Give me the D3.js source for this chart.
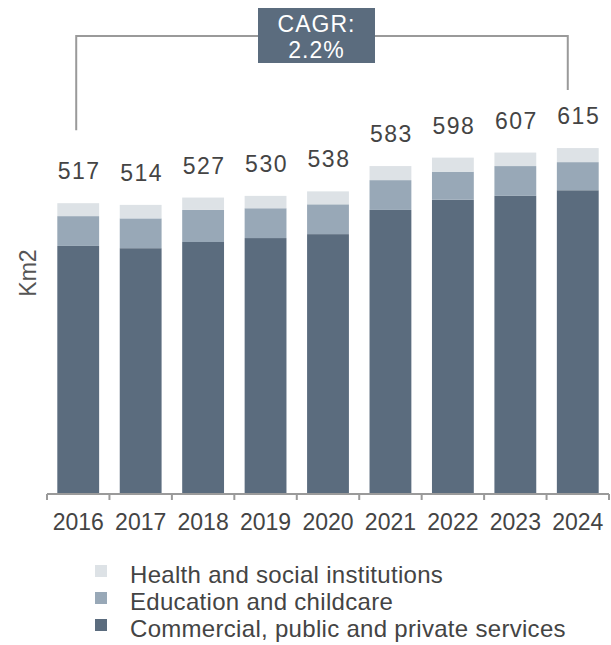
<!DOCTYPE html>
<html>
<head>
<meta charset="utf-8">
<script src="https://cdn.jsdelivr.net/npm/d3@7/dist/d3.min.js"></script>
<style>
  html, body { margin: 0; padding: 0; background: #fff; }
  svg { display: block; }
  .num { font-family: "Liberation Sans Narrow", "Liberation Sans", Arial, sans-serif; }
  .txt { font-family: "Liberation Sans", Arial, sans-serif; }
</style>
</head>
<body>
<svg id="chart" width="611" height="645"></svg>
<script>
const years = ["2016","2017","2018","2019","2020","2021","2022","2023","2024"];
const commercial = [441, 437, 448, 455, 462, 505, 523, 530, 540];
const education  = [53, 53, 57, 53, 53, 53, 50, 53, 50];
const health     = [23, 24, 22, 22, 23, 25, 25, 24, 25];
const totals     = [517, 514, 527, 530, 538, 583, 598, 607, 615];
const seriesNames = ["Commercial, public and private services", "Education and childcare", "Health and social institutions"];
const seriesKeys = ["commercial", "education", "health"];
const colors = ["#5b6c7e", "#98a8b7", "#dde2e6"];
const cagrLines = ["CAGR:", "2.2%"];
const yLabel = "Km2";

const svg = d3.select("#chart");
const table = years.map((y, i) => ({year: y, commercial: commercial[i], education: education[i], health: health[i], total: totals[i]}));

const x = d3.scaleBand().domain(years).range([47, 609]).paddingInner(0.33).paddingOuter(0.165);
const y = d3.scaleLinear().domain([0, 640]).range([494, 134]);
const color = d3.scaleOrdinal().domain(seriesKeys).range(colors);

const stack = d3.stack().keys(seriesKeys)(table);

svg.append("g").selectAll("g").data(stack).join("g")
  .attr("fill", d => color(d.key))
  .selectAll("rect").data(d => d).join("rect")
  .attr("x", d => x(d.data.year))
  .attr("width", x.bandwidth())
  .attr("y", d => y(d[1]))
  .attr("height", d => y(d[0]) - y(d[1]));

// x axis
const axis = d3.axisBottom(x).tickSize(0).tickPadding(20);
const ax = svg.append("g").attr("transform", `translate(0,${y(0)})`).call(axis);
ax.select(".domain").attr("stroke", "#9a9a9a").attr("stroke-width", 2).attr("d", `M${x.range()[0]},0H${x.range()[1]}`);
ax.selectAll(".tick text").attr("class", "num").attr("font-size", 23).attr("fill", "#444").attr("dy", "0.71em");
// boundary tick marks
const step = x.step();
const bounds = d3.range(years.length + 1).map(i => x.range()[0] + i * step);
svg.append("g").selectAll("line").data(bounds).join("line")
  .attr("x1", d => d).attr("x2", d => d)
  .attr("y1", y(0)).attr("y2", y(0) + 6)
  .attr("stroke", "#9a9a9a").attr("stroke-width", 2);

// total labels
svg.append("g").selectAll("text").data(table).join("text")
  .attr("class", "num")
  .attr("x", d => x(d.year) + x.bandwidth() / 2 + 1)
  .attr("y", d => y(d.total) - 24)
  .attr("text-anchor", "middle")
  .attr("font-size", 23)
  .attr("letter-spacing", 1.5)
  .attr("fill", "#444")
  .text(d => d.total);

// y label
svg.append("text").attr("class", "txt")
  .attr("transform", `translate(36,273) rotate(-90)`)
  .attr("text-anchor", "middle")
  .attr("font-size", 23)
  .attr("fill", "#555")
  .text(yLabel);

// CAGR bracket
const first = table[0], last = table[table.length - 1];
const lx = x(first.year) + x.bandwidth() / 2 - 2;
const rx = x(last.year) + x.bandwidth() / 2 - 10;
const topY = 36;
svg.append("path")
  .attr("d", `M${lx},${y(first.total) - 73}V${topY}H${rx}V${y(last.total) - 58}`)
  .attr("fill", "none").attr("stroke", "#9a9a9a").attr("stroke-width", 2);
const bx = 258, bw = 117;
svg.append("rect").attr("x", bx).attr("y", 8).attr("width", bw).attr("height", 55).attr("fill", "#5b6c7e");
svg.append("g").selectAll("text").data(cagrLines).join("text")
  .attr("class", "num")
  .attr("x", bx + bw / 2)
  .attr("y", (d, i) => 32 + i * 26)
  .attr("text-anchor", "middle")
  .attr("font-size", 23)
  .attr("letter-spacing", 1)
  .attr("fill", "#fff")
  .text(d => d);

// legend (top to bottom: health, education, commercial)
const legendOrder = [2, 1, 0];
const lg = svg.append("g").selectAll("g").data(legendOrder).join("g")
  .attr("transform", (d, i) => `translate(95,${583 + i * 27})`);
lg.append("rect").attr("x", 0).attr("y", -18).attr("width", 12).attr("height", 12).attr("fill", d => colors[d]);
lg.append("text").attr("class", "txt")
  .attr("x", 35).attr("y", 0)
  .attr("font-size", 24)
  .attr("letter-spacing", 0.3)
  .attr("fill", "#444")
  .text(d => seriesNames[d]);
</script>
</body>
</html>
